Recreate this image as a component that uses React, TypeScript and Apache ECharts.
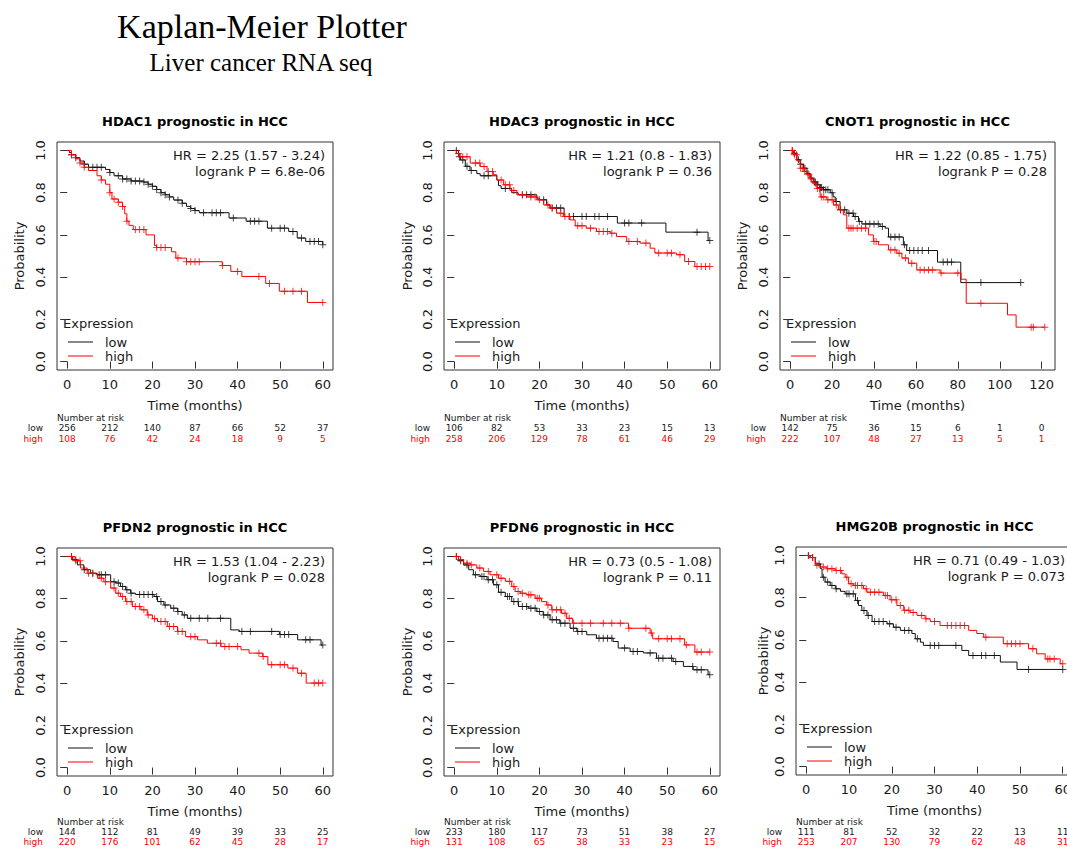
import React, { useEffect, useRef } from "react";
import * as echarts from "echarts";

type P = [number, number];

// ---------- texts ----------
const mainTitle = "Kaplan-Meier Plotter";
const subTitle = "Liver cancer RNA seq";
const panelTitles = [
  "HDAC1 prognostic in HCC",
  "HDAC3 prognostic in HCC",
  "CNOT1 prognostic in HCC",
  "PFDN2 prognostic in HCC",
  "PFDN6 prognostic in HCC",
  "HMG20B prognostic in HCC",
];
const hrLines = [
  "HR = 2.25 (1.57 - 3.24)",
  "HR = 1.21 (0.8 - 1.83)",
  "HR = 1.22 (0.85 - 1.75)",
  "HR = 1.53 (1.04 - 2.23)",
  "HR = 0.73 (0.5 - 1.08)",
  "HR = 0.71 (0.49 - 1.03)",
];
const logrankLines = [
  "logrank P = 6.8e-06",
  "logrank P = 0.36",
  "logrank P = 0.28",
  "logrank P = 0.028",
  "logrank P = 0.11",
  "logrank P = 0.073",
];

// ---------- ticks ----------
const xTicks60 = [0, 10, 20, 30, 40, 50, 60];
const xTicks120 = [0, 20, 40, 60, 80, 100, 120];
const yTicks = [0, 0.2, 0.4, 0.6, 0.8, 1.0];
const maxTime60 = 60;
const maxTimeCnot1 = 121.5;

// ---------- numbers at risk ----------
const hdac1AtRiskLow = [256, 212, 140, 87, 66, 52, 37];
const hdac1AtRiskHigh = [108, 76, 42, 24, 18, 9, 5];
const hdac3AtRiskLow = [106, 82, 53, 33, 23, 15, 13];
const hdac3AtRiskHigh = [258, 206, 129, 78, 61, 46, 29];
const cnot1AtRiskLow = [142, 75, 36, 15, 6, 1, 0];
const cnot1AtRiskHigh = [222, 107, 48, 27, 13, 5, 1];
const pfdn2AtRiskLow = [144, 112, 81, 49, 39, 33, 25];
const pfdn2AtRiskHigh = [220, 176, 101, 62, 45, 28, 17];
const pfdn6AtRiskLow = [233, 180, 117, 73, 51, 38, 27];
const pfdn6AtRiskHigh = [131, 108, 65, 38, 33, 23, 15];
const hmg20bAtRiskLow = [111, 81, 52, 32, 22, 13, 11];
const hmg20bAtRiskHigh = [253, 207, 130, 79, 62, 48, 31];

// ---------- HDAC1 ----------
const hdac1LowCurve: P[] = [[0,1],[0.5,0.99],[1,0.98],[2,0.965],[3,0.95],[4,0.935],[5,0.92],[9,0.91],[10,0.895],[11,0.88],[13,0.865],[15,0.855],[18,0.85],[19,0.84],[20,0.83],[21,0.815],[22,0.8],[23,0.79],[24,0.78],[25,0.765],[27,0.75],[28,0.735],[29,0.725],[30,0.715],[31,0.705],[38,0.68],[42,0.665],[47,0.632],[52,0.616],[54,0.585],[56,0.569],[60,0.553]];
const hdac1LowCensor: P[] = [[1,0.98],[2,0.965],[4,0.935],[6,0.92],[7,0.92],[8,0.92],[10,0.895],[12,0.88],[13,0.865],[14,0.865],[15,0.855],[16,0.855],[17,0.855],[18,0.85],[19,0.84],[20,0.83],[21,0.815],[22,0.8],[23,0.79],[24,0.78],[26,0.765],[27,0.75],[29,0.725],[30,0.715],[32,0.705],[34,0.705],[35,0.705],[36,0.705],[39,0.68],[43,0.665],[44,0.665],[45,0.665],[48,0.632],[50,0.632],[51,0.632],[53,0.616],[55,0.585],[57,0.569],[58,0.569],[59,0.569],[60,0.553]];
const hdac1HighCurve: P[] = [[0,1],[1,0.98],[2,0.96],[3,0.94],[4,0.92],[5,0.905],[7,0.88],[8,0.86],[9,0.84],[10,0.8],[10.5,0.77],[12,0.755],[13,0.735],[13.5,0.7],[14,0.665],[14.5,0.645],[15.5,0.625],[18.5,0.6],[20.5,0.55],[21,0.54],[24.5,0.52],[25.5,0.49],[28,0.473],[36.4,0.455],[38.4,0.427],[41,0.403],[46.6,0.37],[49.8,0.333],[56.4,0.28],[60,0.28]];
const hdac1HighCensor: P[] = [[1,0.98],[3,0.94],[4,0.92],[8,0.86],[10,0.8],[11,0.77],[12,0.755],[13,0.735],[14,0.665],[16,0.625],[17,0.625],[18,0.625],[21,0.54],[22,0.54],[23,0.54],[26,0.49],[28,0.473],[29,0.473],[30,0.473],[31,0.473],[36.5,0.455],[40,0.427],[45,0.403],[47.5,0.37],[51,0.333],[53,0.333],[55,0.333],[60,0.28]];

// ---------- HDAC3 ----------
const hdac3LowCurve: P[] = [[0,1],[1,0.97],[1.5,0.955],[2.6,0.925],[3.7,0.905],[5.3,0.89],[6.1,0.88],[10,0.86],[10.4,0.833],[11,0.82],[13.5,0.8],[15,0.79],[19.4,0.774],[20,0.766],[21.7,0.742],[22.5,0.727],[25.8,0.687],[38.3,0.656],[49.7,0.613],[59.6,0.573],[60,0.573]];
const hdac3LowCensor: P[] = [[0.5,1],[1.2,0.97],[2,0.955],[3,0.925],[4,0.905],[7,0.88],[8,0.88],[12,0.82],[16,0.79],[17,0.79],[18,0.79],[21,0.766],[23,0.727],[24,0.727],[25,0.727],[27,0.687],[28,0.687],[30,0.687],[31,0.687],[33,0.687],[34,0.687],[36,0.687],[40,0.656],[41,0.656],[44,0.656],[57,0.613],[60,0.573]];
const hdac3HighCurve: P[] = [[0,1],[0.5,0.985],[1.4,0.97],[3.75,0.94],[6.1,0.924],[7.7,0.9],[9.2,0.885],[10,0.86],[11.6,0.837],[13.1,0.81],[14.7,0.79],[17,0.78],[19.4,0.766],[21,0.742],[22.5,0.727],[24,0.703],[25.6,0.687],[27.2,0.671],[28.4,0.643],[31,0.632],[33.4,0.616],[36.6,0.608],[38.1,0.592],[40.5,0.569],[43.6,0.561],[46,0.537],[47.1,0.514],[52.2,0.506],[54.1,0.474],[56.5,0.45],[60,0.45]];
const hdac3HighCensor: P[] = [[1,0.985],[2,0.97],[3,0.97],[5,0.94],[6,0.94],[7,0.924],[8,0.9],[9,0.9],[11,0.86],[12,0.837],[13,0.837],[14,0.81],[16,0.79],[18,0.78],[19,0.78],[20,0.766],[22,0.742],[23,0.727],[25,0.703],[26,0.687],[27,0.687],[29,0.643],[30,0.643],[32,0.632],[34,0.616],[35,0.616],[36,0.616],[37,0.608],[41,0.569],[43,0.569],[45,0.561],[48,0.514],[50,0.514],[51,0.514],[53,0.506],[55,0.474],[57,0.45],[58,0.45],[59,0.45],[60,0.45]];

// ---------- CNOT1 ----------
const cnot1LowCurve: P[] = [[0,1],[1.6,0.987],[3.2,0.956],[4.8,0.935],[6.4,0.916],[8,0.89],[9.5,0.869],[11,0.85],[12.7,0.837],[14,0.825],[15.9,0.814],[19.1,0.8],[20.5,0.78],[21.5,0.758],[23.8,0.719],[27,0.703],[30.2,0.687],[32.6,0.664],[34.2,0.652],[42.9,0.64],[45.3,0.632],[46.9,0.59],[54,0.553],[55.6,0.526],[70.3,0.471],[81.4,0.374],[110,0.374]];
const cnot1LowCensor: P[] = [[1,1],[2,0.987],[4,0.956],[5,0.935],[7,0.916],[8.5,0.89],[10,0.869],[11.5,0.85],[12,0.85],[13,0.837],[14.5,0.825],[15,0.825],[16,0.814],[17,0.814],[18,0.814],[20,0.8],[22,0.758],[24,0.719],[26,0.719],[28,0.703],[30,0.703],[31,0.687],[33,0.664],[36,0.652],[38,0.652],[40,0.652],[42,0.652],[44,0.64],[48,0.59],[50,0.59],[52,0.59],[54.5,0.553],[57,0.526],[59,0.526],[61,0.526],[63,0.526],[66,0.526],[73,0.471],[75,0.471],[77,0.471],[91,0.374],[110,0.374]];
const cnot1HighCurve: P[] = [[0,1],[1.6,0.98],[3.2,0.95],[4.8,0.916],[6.5,0.9],[8,0.885],[9.5,0.865],[11.1,0.845],[12.7,0.82],[14.3,0.78],[17.5,0.766],[20.7,0.742],[23,0.719],[25.4,0.695],[27,0.632],[37.4,0.6],[39.7,0.569],[42.1,0.553],[46.9,0.529],[50.9,0.513],[53.3,0.49],[56.4,0.466],[60.4,0.434],[71.5,0.419],[81.5,0.39],[84,0.276],[103.7,0.221],[107.8,0.163],[121.5,0.163]];
const cnot1HighCensor: P[] = [[1,1],[2,0.98],[3,0.98],[5,0.916],[6,0.916],[7,0.9],[9,0.885],[10,0.865],[12,0.845],[13,0.82],[14,0.82],[15,0.78],[16,0.78],[18,0.766],[20,0.766],[22,0.742],[24,0.719],[28,0.632],[29,0.632],[30,0.632],[32,0.632],[34,0.632],[36,0.632],[40,0.569],[41,0.569],[48,0.529],[50,0.529],[52,0.513],[55,0.49],[58,0.466],[62,0.434],[64,0.434],[66,0.434],[68,0.434],[72,0.419],[80,0.419],[91,0.276],[115,0.163],[116,0.163],[121.5,0.163]];

// ---------- PFDN2 ----------
const pfdn2LowCurve: P[] = [[0,1],[1.2,0.984],[2.4,0.96],[3.9,0.937],[5.5,0.92],[7,0.913],[10.2,0.88],[11.4,0.874],[12.5,0.858],[13.7,0.842],[14.9,0.826],[16,0.82],[20.4,0.81],[21.2,0.786],[22.7,0.77],[24.3,0.755],[25.9,0.739],[27,0.723],[28.2,0.707],[38.4,0.652],[40.4,0.645],[49.8,0.63],[54.1,0.605],[59.6,0.58],[60,0.58]];
const pfdn2LowCensor: P[] = [[1,1],[2,0.984],[4,0.937],[6,0.92],[7.5,0.913],[8,0.913],[9,0.913],[11,0.88],[12,0.874],[13,0.858],[14,0.842],[15,0.826],[17,0.82],[18,0.82],[19,0.82],[20,0.82],[21,0.81],[22,0.786],[23,0.77],[25,0.755],[26,0.739],[27.5,0.723],[29,0.707],[31,0.707],[33,0.707],[36,0.707],[41,0.645],[43,0.645],[48,0.645],[50,0.63],[51,0.63],[52,0.63],[56,0.605],[57,0.605],[60,0.58]];
const pfdn2HighCurve: P[] = [[0,1],[1.6,0.98],[3.1,0.945],[4.7,0.92],[7.1,0.897],[8.6,0.88],[10.2,0.85],[11.4,0.826],[12.5,0.81],[13.7,0.786],[15.3,0.763],[17.3,0.747],[18.8,0.723],[20,0.705],[21.2,0.692],[23.5,0.668],[25.9,0.645],[27.8,0.62],[30.6,0.605],[32.9,0.589],[36.1,0.573],[40.8,0.558],[42.7,0.542],[45.9,0.526],[47.1,0.487],[51.8,0.471],[54.1,0.447],[56.1,0.4],[60,0.4]];
const pfdn2HighCensor: P[] = [[1,1],[2,0.98],[3,0.98],[5,0.92],[6,0.92],[8,0.897],[9,0.88],[11,0.85],[12,0.826],[13,0.81],[14,0.786],[15,0.786],[16,0.763],[17,0.763],[18,0.747],[19,0.723],[20.5,0.705],[22,0.692],[23,0.692],[24,0.668],[25,0.668],[26,0.645],[27,0.645],[29,0.62],[30,0.62],[35,0.589],[36,0.589],[37,0.573],[38,0.573],[40,0.573],[45,0.542],[46,0.526],[48,0.487],[50,0.487],[51,0.487],[53,0.471],[55,0.447],[58,0.4],[59,0.4],[60,0.4]];

// ---------- PFDN6 ----------
const pfdn6LowCurve: P[] = [[0,1],[1,0.98],[2.2,0.96],[3.4,0.937],[4.5,0.913],[6.1,0.905],[7.7,0.89],[9.2,0.866],[10.4,0.83],[12,0.81],[13.5,0.786],[15.1,0.763],[17.4,0.755],[19.4,0.739],[20.9,0.723],[22.5,0.7],[24.8,0.684],[27.2,0.66],[28.8,0.645],[31.1,0.629],[33.4,0.613],[37.3,0.597],[38.5,0.566],[41.3,0.55],[44.4,0.543],[47.5,0.518],[51.4,0.502],[53.8,0.479],[56.1,0.463],[59.6,0.44],[60,0.44]];
const pfdn6LowCensor: P[] = [[0.5,1],[1.5,0.98],[3,0.96],[5,0.913],[6.5,0.905],[7,0.905],[8,0.89],[9,0.89],[10,0.866],[11,0.83],[12.5,0.81],[13,0.81],[14,0.786],[15,0.786],[16,0.763],[17,0.763],[18,0.755],[19,0.755],[20,0.739],[21,0.723],[22,0.723],[23,0.7],[24,0.7],[25,0.684],[26,0.684],[28,0.66],[29,0.645],[30,0.645],[34,0.613],[35,0.613],[36,0.613],[37,0.613],[40,0.566],[42,0.55],[43,0.55],[46,0.543],[48,0.518],[49,0.518],[51,0.518],[52,0.502],[56,0.479],[57,0.463],[58,0.463],[60,0.44]];
const pfdn6HighCurve: P[] = [[0,1],[1,0.985],[2.2,0.968],[3.75,0.96],[5.3,0.945],[6.9,0.929],[8.4,0.913],[10.4,0.897],[12,0.882],[13.5,0.858],[14.3,0.834],[15.5,0.826],[17,0.818],[19,0.802],[20.5,0.786],[21.7,0.77],[22.9,0.747],[25.2,0.731],[26.4,0.707],[27.8,0.684],[40.9,0.66],[46,0.637],[46.6,0.61],[54.1,0.581],[56.5,0.547],[60,0.547]];
const pfdn6HighCensor: P[] = [[0.5,1],[1.5,0.985],[3,0.968],[4,0.96],[6,0.945],[8,0.929],[10,0.913],[11,0.897],[13,0.882],[14,0.858],[15,0.834],[16,0.826],[17.5,0.818],[18,0.818],[19.5,0.802],[20,0.802],[22,0.77],[23,0.747],[24,0.747],[25,0.747],[26,0.731],[27,0.707],[28,0.684],[30,0.684],[32,0.684],[35,0.684],[37,0.684],[39,0.684],[41,0.66],[45,0.66],[46.3,0.637],[48,0.61],[50,0.61],[51,0.61],[53,0.61],[54.5,0.581],[57,0.547],[58,0.547],[60,0.547]];

// ---------- HMG20B ----------
const hmg20bLowCurve: P[] = [[0,1],[0.9,0.99],[2.1,0.96],[3.3,0.937],[3.7,0.897],[4.4,0.874],[5.6,0.858],[6.8,0.842],[8,0.83],[9.1,0.818],[11.5,0.787],[12.2,0.763],[13,0.739],[14.2,0.716],[15.4,0.687],[18.9,0.676],[20.4,0.66],[22,0.645],[24.7,0.63],[25.5,0.605],[26.7,0.589],[27.4,0.574],[36.4,0.55],[38,0.526],[45.4,0.495],[49.3,0.46],[60,0.46]];
const hmg20bLowCensor: P[] = [[0.5,1],[1.5,0.99],[3,0.96],[4,0.897],[5,0.874],[6,0.858],[7,0.842],[9.5,0.818],[10,0.818],[11,0.818],[12,0.787],[13.5,0.739],[14.5,0.716],[16,0.687],[17,0.687],[18,0.687],[19.5,0.676],[21,0.66],[23,0.645],[24,0.645],[26,0.605],[29,0.574],[30,0.574],[31,0.574],[35,0.574],[39,0.526],[41,0.526],[42,0.526],[44,0.526],[52,0.46],[60,0.46]];
const hmg20bHighCurve: P[] = [[0,1],[0.9,0.99],[2.1,0.953],[3.3,0.945],[4.8,0.937],[6.8,0.929],[8.3,0.913],[9.1,0.897],[9.9,0.866],[11.1,0.858],[13.4,0.842],[14.2,0.826],[18.1,0.81],[19.6,0.79],[21.2,0.763],[22.8,0.74],[24.3,0.73],[25.9,0.716],[27.8,0.7],[29,0.687],[31.3,0.668],[38,0.645],[39.9,0.63],[41.5,0.613],[46.1,0.582],[52,0.558],[53.9,0.534],[55.9,0.51],[59.4,0.487],[60,0.487]];
const hmg20bHighCensor: P[] = [[0.5,1],[1.5,0.99],[2.5,0.953],[4,0.945],[5,0.937],[6,0.937],[7,0.929],[8,0.929],[9.5,0.897],[10.5,0.866],[11.5,0.858],[12,0.858],[13,0.858],[14,0.842],[15,0.826],[16,0.826],[17,0.826],[18.5,0.81],[19,0.81],[20,0.79],[21,0.79],[22,0.763],[23,0.74],[24,0.74],[25,0.73],[27,0.716],[28,0.7],[30,0.687],[33,0.668],[34,0.668],[35,0.668],[36,0.668],[37,0.668],[42,0.613],[47,0.582],[48,0.582],[49,0.582],[50,0.582],[53,0.558],[56.5,0.51],[57,0.51],[58,0.51],[60,0.487]];

// ---------- layout (plot boxes, px) ----------
const boxes = [
  { l: 57, t: 142, w: 276, h: 228, probOff: 38, tab: [48, 58, 69] },
  { l: 444, t: 142, w: 276, h: 228, probOff: 37, tab: [48, 58, 69] },
  { l: 780, t: 142, w: 275, h: 228, probOff: 38, tab: [48, 58, 69] },
  { l: 57, t: 548, w: 276, h: 228, probOff: 38, tab: [46, 56, 66] },
  { l: 444, t: 548, w: 276, h: 228, probOff: 37, tab: [46, 56, 66] },
  { l: 796, t: 547, w: 277, h: 228, probOff: 33, tab: [47, 57, 67] },
];

const panels = [
  { low: hdac1LowCurve, lowC: hdac1LowCensor, high: hdac1HighCurve, highC: hdac1HighCensor, ticks: xTicks60, tmax: maxTime60, rLow: hdac1AtRiskLow, rHigh: hdac1AtRiskHigh },
  { low: hdac3LowCurve, lowC: hdac3LowCensor, high: hdac3HighCurve, highC: hdac3HighCensor, ticks: xTicks60, tmax: maxTime60, rLow: hdac3AtRiskLow, rHigh: hdac3AtRiskHigh },
  { low: cnot1LowCurve, lowC: cnot1LowCensor, high: cnot1HighCurve, highC: cnot1HighCensor, ticks: xTicks120, tmax: maxTimeCnot1, rLow: cnot1AtRiskLow, rHigh: cnot1AtRiskHigh },
  { low: pfdn2LowCurve, lowC: pfdn2LowCensor, high: pfdn2HighCurve, highC: pfdn2HighCensor, ticks: xTicks60, tmax: maxTime60, rLow: pfdn2AtRiskLow, rHigh: pfdn2AtRiskHigh },
  { low: pfdn6LowCurve, lowC: pfdn6LowCensor, high: pfdn6HighCurve, highC: pfdn6HighCensor, ticks: xTicks60, tmax: maxTime60, rLow: pfdn6AtRiskLow, rHigh: pfdn6AtRiskHigh },
  { low: hmg20bLowCurve, lowC: hmg20bLowCensor, high: hmg20bHighCurve, highC: hmg20bHighCensor, ticks: xTicks60, tmax: maxTime60, rLow: hmg20bAtRiskLow, rHigh: hmg20bAtRiskHigh },
];

const FONT = "DejaVu Sans";
const SERIF = "Liberation Serif";
const BLACK = "#111111";
const RED = "#ff0000";
const AXIS = "#333333";
const PLUS = "path://M0,4.3H10V5.7H0Z M4.3,0H5.7V10H4.3Z";
const CANVAS_W = 1090; // wider than the page so the last panel runs off the right edge as in the reference
const PAGE_W = 1067;
const PAGE_H = 848;

function txt(x: number, y: number, text: string, o: any = {}) {
  const align = o.align || "left";
  const va = o.va || "middle";
  return {
    type: "text",
    x,
    y,
    rotation: o.rotation || 0,
    silent: true,
    style: {
      text,
      fill: o.fill || "#1a1a1a",
      fontFamily: o.family || FONT,
      fontSize: o.size || 13,
      fontWeight: o.weight || "normal",
      align,
      verticalAlign: va,
      textAlign: align,
      textVerticalAlign: va,
    },
  };
}

export default function App() {
  const ref = useRef<HTMLDivElement>(null);

  useEffect(() => {
    if (!ref.current) return;
    const chart = echarts.init(ref.current, undefined, { renderer: "svg" });

    const grid = boxes.map((b) => ({
      left: b.l,
      top: b.t,
      width: b.w,
      height: b.h,
      show: true,
      borderColor: AXIS,
      borderWidth: 1,
      backgroundColor: "transparent",
    }));

    const xAxis = panels.map((p, i) => ({
      type: "value",
      gridIndex: i,
      min: -0.04 * p.tmax,
      max: 1.04 * p.tmax,
      axisLine: { show: false },
      splitLine: { show: false },
      axisTick: { show: true, inside: false, length: 7, customValues: p.ticks, lineStyle: { color: AXIS, width: 1 } },
      axisLabel: { show: true, customValues: p.ticks, margin: 8, fontFamily: FONT, fontSize: 13, color: "#1a1a1a" },
    }));

    const yAxis = panels.map((p, i) => ({
      type: "value",
      gridIndex: i,
      min: -0.04,
      max: 1.04,
      axisLine: { show: false },
      splitLine: { show: false },
      axisTick: { show: true, inside: false, length: 7, customValues: yTicks, lineStyle: { color: AXIS, width: 1 } },
      axisLabel: {
        show: true,
        customValues: yTicks,
        rotate: 90,
        margin: 10,
        fontFamily: FONT,
        fontSize: 13,
        color: "#1a1a1a",
        formatter: (v: number) => v.toFixed(1),
      },
    }));

    const series: any[] = [];
    panels.forEach((p, i) => {
      series.push({ type: "line", xAxisIndex: i, yAxisIndex: i, data: p.low, step: "end", showSymbol: false, symbol: "none", lineStyle: { color: BLACK, width: 1 }, itemStyle: { color: BLACK }, silent: true, z: 2 });
      series.push({ type: "scatter", xAxisIndex: i, yAxisIndex: i, data: p.lowC, symbol: PLUS, symbolSize: 7, itemStyle: { color: BLACK }, silent: true, z: 3 });
      series.push({ type: "line", xAxisIndex: i, yAxisIndex: i, data: p.high, step: "end", showSymbol: false, symbol: "none", lineStyle: { color: RED, width: 1 }, itemStyle: { color: RED }, silent: true, z: 4 });
      series.push({ type: "scatter", xAxisIndex: i, yAxisIndex: i, data: p.highC, symbol: PLUS, symbolSize: 7, itemStyle: { color: RED }, silent: true, z: 5 });
    });

    chart.setOption({
      animation: false,
      backgroundColor: "#ffffff",
      grid,
      xAxis,
      yAxis,
      series,
    });

    const graphic: any[] = [];
    graphic.push(txt(262, 26, mainTitle, { align: "center", family: SERIF, size: 34, fill: "#000" }));
    graphic.push(txt(261, 62, subTitle, { align: "center", family: SERIF, size: 25, fill: "#000" }));

    panels.forEach((p, i) => {
      const b = boxes[i];
      const bottom = b.t + b.h;
      graphic.push(txt(b.l + b.w / 2, b.t - 21, panelTitles[i], { align: "center", weight: "bold", fill: "#000" }));
      graphic.push(txt(b.l + b.w - 8, b.t + 13, hrLines[i], { align: "right" }));
      graphic.push(txt(b.l + b.w - 8, b.t + 29, logrankLines[i], { align: "right" }));
      // legend
      graphic.push(txt(b.l + 6, bottom - 47, "Expression"));
      graphic.push({ type: "line", silent: true, shape: { x1: b.l + 11, y1: bottom - 28, x2: b.l + 36, y2: bottom - 28 }, style: { stroke: BLACK, lineWidth: 1 } });
      graphic.push(txt(b.l + 48, bottom - 28, "low"));
      graphic.push({ type: "line", silent: true, shape: { x1: b.l + 11, y1: bottom - 14, x2: b.l + 36, y2: bottom - 14 }, style: { stroke: RED, lineWidth: 1 } });
      graphic.push(txt(b.l + 48, bottom - 14, "high"));
      // axis names
      graphic.push(txt(b.l + b.w / 2, bottom + 35, "Time (months)", { align: "center" }));
      graphic.push(txt(b.l - b.probOff, b.t + b.h / 2, "Probability", { align: "center", rotation: Math.PI / 2 }));
      // number at risk table
      graphic.push(txt(b.l, bottom + b.tab[0], "Number at risk", { size: 9 }));
      graphic.push(txt(b.l - 14, bottom + b.tab[1], "low", { size: 9, align: "right" }));
      graphic.push(txt(b.l - 14, bottom + b.tab[2], "high", { size: 9, align: "right", fill: RED }));
      p.ticks.forEach((t, k) => {
        const x = chart.convertToPixel({ xAxisIndex: i } as any, t) as unknown as number;
        graphic.push(txt(x, bottom + b.tab[1], String(p.rLow[k]), { size: 9, align: "center" }));
        graphic.push(txt(x, bottom + b.tab[2], String(p.rHigh[k]), { size: 9, align: "center", fill: RED }));
      });
    });

    chart.setOption({ graphic });

    return () => chart.dispose();
  }, []);

  return (
    <div style={{ position: "absolute", left: 0, top: 0, width: PAGE_W, height: PAGE_H, overflow: "hidden", background: "#fff" }}>
      <div ref={ref} style={{ width: CANVAS_W, height: PAGE_H }} />
    </div>
  );
}
